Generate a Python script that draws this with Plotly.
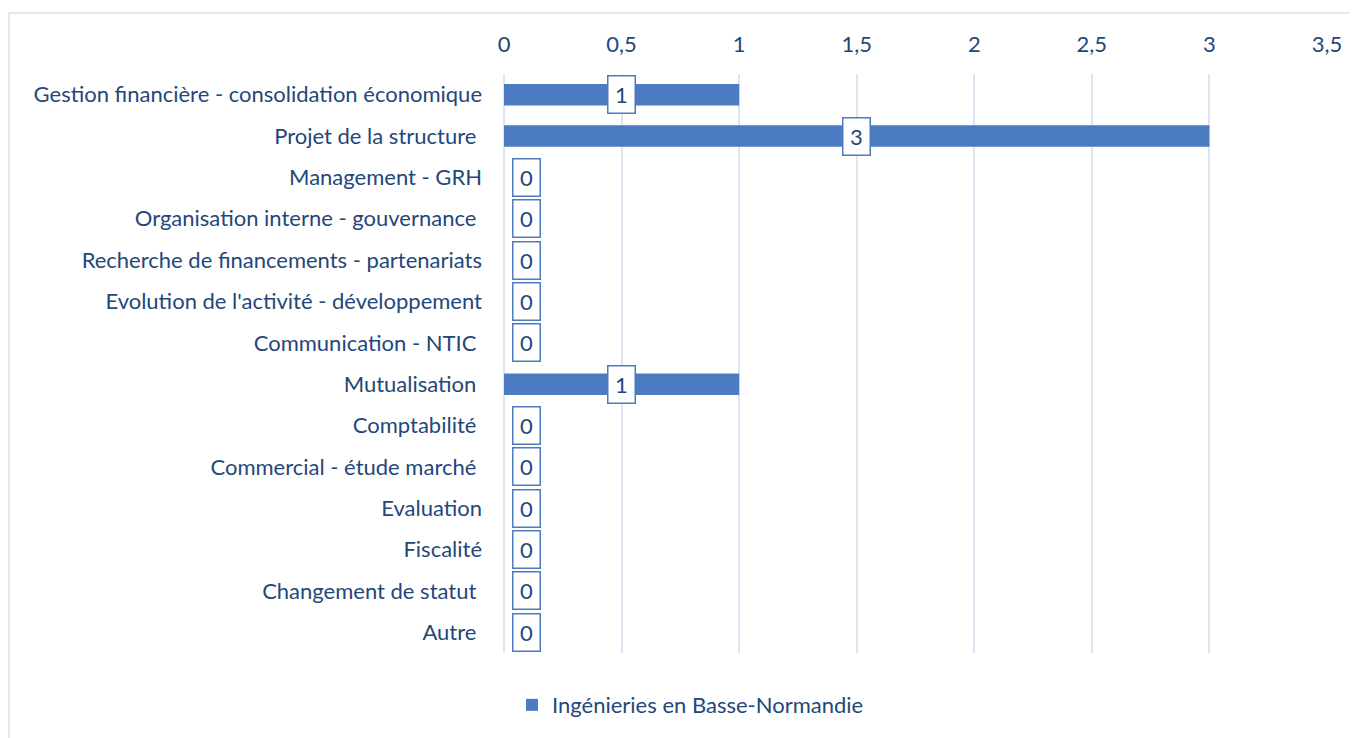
import plotly.graph_objects as go

categories = [
    "Gestion financière - consolidation économique",
    "Projet de la structure ",
    "Management - GRH",
    "Organisation interne - gouvernance ",
    "Recherche de financements - partenariats",
    "Evolution de l'activité - développement",
    "Communication - NTIC ",
    "Mutualisation ",
    "Comptabilité ",
    "Commercial - étude marché ",
    "Evaluation",
    "Fiscalité",
    "Changement de statut ",
    "Autre ",
]
values = [1, 3, 0, 0, 0, 0, 0, 1, 0, 0, 0, 0, 0, 0]
series_name = "Ingénieries en Basse-Normandie"
tick_vals = [0, 0.5, 1, 1.5, 2, 2.5, 3, 3.5]
tick_text = ["0", "0,5", "1", "1,5", "2", "2,5", "3", "3,5"]

TEXT = "#24477a"
BAR = "#4b7cc1"
GRID = "#dbe5f4"
FONT = "Lato"
FS = 22

OFF = 8  # page body margin
W, H = 1358 - OFF, 738 - OFF
ML, MT = 504 - OFF, 74 - OFF
MR = W - (1327 - OFF)
MB = H - (653 - OFF)
pw, ph = W - ML - MR, H - MT - MB

fig = go.Figure()
fig.add_trace(go.Bar(
    y=categories, x=values, orientation="h",
    name=series_name,
    marker=dict(color=BAR, line=dict(width=0)),
    width=0.52,
    hoverinfo="x+y",
))

for c, v in zip(categories, values):
    if v > 0:
        fig.add_annotation(x=v / 2, y=c, text=str(v), showarrow=False,
                           xanchor="center", yanchor="middle")
    else:
        fig.add_annotation(x=0, y=c, text=str(v), showarrow=False,
                           xanchor="left", yanchor="middle", xshift=8)
fig.update_annotations(font=dict(family=FONT, size=FS, color=TEXT),
                       bgcolor="white", bordercolor=BAR, borderwidth=1.5,
                       borderpad=5, width=16, height=26, align="center", valign="middle")

# chart border (top and left visible)
bx = (9 - 504) / pw
by = 1 + (74 - 13) / ph
fig.add_shape(type="line", xref="paper", yref="paper", x0=bx, x1=1.2, y0=by, y1=by,
              line=dict(color="#d9e2ee", width=1.5))
fig.add_shape(type="line", xref="paper", yref="paper", x0=bx, x1=bx, y0=by, y1=-0.3,
              line=dict(color="#d9e2ee", width=1.5))

fig.update_layout(
    width=W, height=H,
    margin=dict(l=ML, r=MR, t=MT, b=MB),
    paper_bgcolor="white", plot_bgcolor="white",
    font=dict(family=FONT, size=FS, color=TEXT),
    showlegend=True,
    legend=dict(orientation="h", x=(512 - 504) / pw, xanchor="left",
                y=-(705 - 653) / ph, yanchor="middle",
                font=dict(family=FONT, size=FS, color=TEXT), itemwidth=30),
    xaxis=dict(side="top", range=[0, 3.5], tickvals=tick_vals, ticktext=tick_text,
               showgrid=True, gridcolor=GRID, gridwidth=1.5, zeroline=True,
               zerolinecolor=GRID, zerolinewidth=1.5, showline=False, ticks="",
               ticklabelstandoff=17, tickfont=dict(size=FS, color=TEXT)),
    yaxis=dict(autorange="reversed", categoryorder="array", categoryarray=categories,
               showgrid=False, showline=False, ticks="", ticklabelstandoff=21,
               tickfont=dict(size=FS, color=TEXT)),
    bargap=0.48,
)

fig.write_html("out.html")
